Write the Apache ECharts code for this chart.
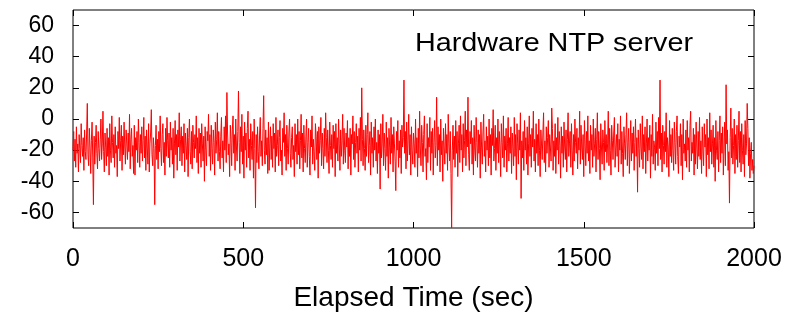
<!DOCTYPE html>
<html>
<head>
<meta charset="utf-8">
<script src="https://cdn.jsdelivr.net/npm/echarts@6/dist/echarts.min.js"></script>
<style>
  html, body { margin: 0; padding: 0; background: #fff; }
  #chart { width: 807px; height: 320px; }
</style>
</head>
<body>
<div id="chart"></div>
<script>
// one sample every 2 s
const sampleStep = 2;
const offsets = [
  -20, -8, -27, -13, -31, -5, -22, -16, -34, -10, -19, -28, -3, -17, -24, -12, -33, -7, -21, -26,
  -9, 10, -23, -30, -6, -18, -35, -14, -2, -25, -55, -11, -29, -15, -4, -22, -32, -8, -19, -27,
  -13, 0, -26, -16, 5, -21, -34, -9, -18, -30, -6, -24, -12, -36, -3, -20, -28, 2, -15, -25,
  -10, -31, -5, -22, -17, -37, -8, -19, 1, -27, -14, -4, -33, -11, -23, -2, -18, -29, -7, -16,
  -26, -9, -21, 3, -32, -13, -6, -24, -17, -35, -4, -36, -12, -20, -8, -28, 0, -15, -31, -10,
  -22, -5, -27, -14, 1, -25, -11, -33, -7, -18, -29, -3, -34, -16, -9, 6, -23, -30, -12, -19,
  -55, -17, -4, -26, -13, -32, -8, -21, 2, -19, -30, -10, -3, -28, -15, -36, -6, -24, 1, -14,
  -25, -9, -31, -2, -20, -12, -29, -6, -38, -16, -1, -23, -10, -33, -7, -18, 4, -27, -13, -5,
  -30, -11, -22, -3, -34, -9, -17, -26, -6, -37, -12, 0, -21, -29, -8, -32, -4, -15, -25, -10,
  -19, 2, -28, -12, -35, -6, -22, -9, -31, -3, -16, -27, -11, -40, -5, -20, -30, -8, -14, 3,
  -24, -10, -33, -4, -19, -29, -7, -15, -36, -2, -22, -13, 4, -27, -8, -21, -32, -11, 1, -25,
  -14, -34, -5, -20, 2, -28, 17, -9, -23, -16, -37, -4, -13, -30, -7, 2, -22, -10, -33, 0,
  -18, -27, -8, 18, -15, -35, -5, -21, 3, -29, -11, -38, -2, -20, -9, -31, -6, 5, -25, -13,
  -33, -3, -17, -26, -8, -38, 0, -19, -57, -10, -28, -5, -21, -32, -9, 1, -24, -14, -30, -6,
  15, -20, -29, -7, -23, -12, -35, -2, -33, -16, -5, -26, -11, -31, -3, -19, -9, -34, 1, -24,
  -17, -7, -30, -12, -1, -27, -20, -36, -6, -15, 4, -24, -10, -33, -4, -19, -29, -9, 0, -22,
  -31, -12, -5, -26, -17, -37, -3, -21, -10, -29, 0, -23, -8, -32, -14, 3, -25, -9, -34, -4,
  -19, -28, -11, 0, -31, -15, -6, -24, -36, -7, -18, 2, -29, -13, -21, -33, -3, -11, -26, -8,
  -38, -5, -22, -14, 1, -30, -9, -19, -32, -6, -24, 4, -12, -28, -7, -20, -35, -2, -17, -26,
  -10, -31, -4, -19, -8, -37, -3, -22, -12, -27, 0, -16, -33, -7, -24, -14, 3, -29, -6, -20,
  -28, -9, -18, -1, -32, -12, -24, -6, -36, -10, -16, 2, -26, -8, -31, -15, -3, -22, -11, -34,
  -6, -20, 1, -27, 20, -13, -30, -7, -19, -33, -4, -24, -10, 4, -28, -17, -8, -36, -2, -22,
  -12, -31, -5, -20, 0, -27, -15, -35, -7, -22, -10, -45, -3, -25, -16, 3, -30, -9, -19, -33,
  -2, -24, -12, -38, -6, -18, -29, 1, -22, -10, -34, -5, -16, -27, -46, -8, -20, -1, -31, -14,
  -25, -7, -35, -4, -18, -12, 25, -22, -8, -32, -2, -27, -14, 3, -23, -10, -36, -5, -20, -29,
  -9, -16, -31, 0, -22, -12, -37, -6, -25, 5, -18, -30, -4, -15, -34, -10, 2, -24, -19, -39,
  -3, -28, -12, -18, 1, -33, -8, -22, -6, -36, -15, -1, -25, -17, 14, -30, -5, -20, -10, -34,
  0, -23, -14, -40, -6, -18, -29, -3, -22, -10, -33, 3, -16, -27, -8, -35, -70, -20, -4, -26,
  -11, -31, -1, -22, -8, -37, -16, -4, -28, 2, -20, -10, -34, -3, -25, -14, 5, -30, -7, -18,
  14, -23, -33, -8, -16, -1, -29, -12, -36, -4, -20, -27, 1, -15, -31, -7, -22, -10, -38, -2,
  -18, -29, -9, 3, -24, -14, -34, -5, -20, -11, -30, 0, -25, -10, -36, -6, -17, 6, -27, -19,
  -4, -33, -12, -22, 0, -28, -8, -18, -37, -3, -15, -25, 2, -31, -11, -20, -6, -34, -16, 1,
  -27, -12, -22, -5, -35, -9, -18, -30, 1, -24, -10, -39, -3, -16, -29, -7, -20, 4, -51, -14,
  -25, -8, -33, -1, -20, -12, -29, -5, -36, -16, 2, -24, -10, -31, -6, -18, 5, -27, -13, -34,
  -3, -22, -10, -30, 0, -20, -37, -7, -16, -26, -9, 4, -28, -14, -34, -5, -22, -12, -1, -31,
  -10, -18, -27, 7, -6, -33, -14, -24, -3, -35, -12, -20, 1, -29, -8, -17, -38, -5, -22, -11,
  -31, -2, -18, -26, -7, -34, -13, 4, -24, -16, -8, -31, -3, -20, -36, -10, -27, 0, -15, -22,
  -6, -32, -12, -20, 5, -29, -4, -18, -26, -10, -37, -1, -16, -30, -8, -22, 2, -27, -14, -35,
  -4, -20, -10, -31, 0, -24, -16, -6, -34, -13, 4, -26, -8, -19, -39, -3, -18, -29, -7, -15,
  -33, -1, -21, -10, -28, -16, 5, -30, -6, -20, -36, -4, -14, -26, -9, 1, -31, -18, -10, -24,
  -3, -34, -13, -20, 2, -29, -8, -22, -37, -5, -16, -26, -10, 4, -30, -15, -6, -35, -18, -1,
  -27, -9, -22, -5, -33, -15, 0, -24, -12, -47, -7, -19, -31, -3, -18, -26, 2, -32, -10, -21,
  -5, -35, -16, 0, -27, -12, -20, -4, -38, -10, -24, 3, -29, -14, -18, -33, -2, -22, -8, -30,
  1, -19, 25, -26, -9, -34, -4, -17, -29, -8, -21, 4, -31, -12, -18, -37, -1, -24, -10, -28,
  -6, -20, -33, -2, -15, -29, -8, 2, -24, -35, -11, -18, -3, -30, -10, -39, 0, -22, -16, -27,
  -7, -31, -1, -20, -12, -34, -4, 5, -27, -15, -22, -6, -36, -10, -29, -2, -18, -32, -8, -24,
  1, -26, -14, -35, -5, -20, -30, -3, -18, -10, -37, 0, -23, -12, -32, 4, -21, -7, -29, -16,
  -4, -31, -12, -40, -1, -20, -26, -8, -34, -14, 2, -28, -9, -22, -5, -36, -18, -2, -30, 22,
  -16, -7, -33, -21, -54, -12, 7, -25, -6, -29, -17, 0, -35, -10, -26, -4, -31, -14, 5, -28,
  -8, -34, -3, -20, -29, -10, -37, -1, -23, -16, 10, -6, -30, -12, -38, -22, -15, -33, -26, -35,
  -30
];
const xTicks = [0, 500, 1000, 1500, 2000];
const yTicks = [-60, -40, -20, 0, 20, 40, 60];

const font = "'Liberation Sans', Arial, sans-serif";
const chart = echarts.init(document.getElementById("chart"), null, { renderer: "canvas" });

const tick = { show: true, inside: true, length: 6, lineStyle: { color: "#000", width: 1 } };
const noLine = { show: false, onZero: false };

chart.setOption({
  animation: false,
  backgroundColor: "#fff",
  graphic: [
    {
      type: "text",
      x: 415,
      y: 44,
      scaleX: 1.15,
      style: {
        text: "Hardware NTP server",
        font: "25px " + font,
        fill: "#000",
        textAlign: "left",
        textVerticalAlign: "middle"
      }
    }
  ],
  grid: { left: 73, right: 53, top: 10, bottom: 92, show: true, borderColor: "#000", borderWidth: 1, backgroundColor: "#fff" },
  xAxis: [
    {
      type: "value", min: 0, max: 2000, position: "bottom",
      name: "Elapsed Time (sec)", nameLocation: "middle", nameGap: 56,
      nameTextStyle: { fontFamily: font, fontSize: 28, color: "#000" },
      axisLine: noLine,
      axisTick: Object.assign({ customValues: xTicks }, tick),
      axisLabel: { customValues: xTicks, margin: 19, fontFamily: font, fontSize: 25, color: "#000", formatter: (v) => String(v) },
      splitLine: { show: false }
    },
    {
      type: "value", min: 0, max: 2000, position: "top",
      axisLine: noLine,
      axisTick: Object.assign({ customValues: xTicks }, tick),
      axisLabel: { show: false },
      splitLine: { show: false }
    }
  ],
  yAxis: [
    {
      type: "value", min: -70, max: 70, position: "left",
      axisLine: noLine,
      axisTick: Object.assign({ customValues: yTicks }, tick),
      axisLabel: { customValues: yTicks, margin: 19, padding: [5, 0, 0, 0], fontFamily: font, fontSize: 23, color: "#000" },
      splitLine: { show: false }
    },
    {
      type: "value", min: -70, max: 70, position: "right",
      axisLine: noLine,
      axisTick: Object.assign({ customValues: yTicks }, tick),
      axisLabel: { show: false },
      splitLine: { show: false }
    }
  ],
  series: [
    {
      type: "line",
      xAxisIndex: 0,
      yAxisIndex: 0,
      data: offsets.map((v, i) => [i * sampleStep, v]),
      symbol: "none",
      clip: true,
      lineStyle: { color: "#ff0000", width: 1 }
    }
  ]
});
</script>
</body>
</html>
